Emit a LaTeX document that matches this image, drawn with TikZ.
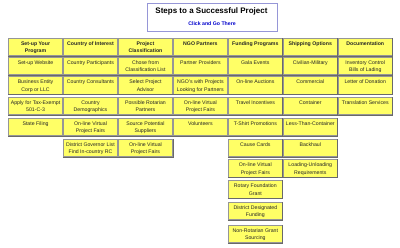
\documentclass[tikz,border=0pt]{standalone}
\usepackage{fontspec}
\setmainfont{Liberation Sans}
\definecolor{cellyellow}{RGB}{255,255,102}
\definecolor{cellborder}{RGB}{150,150,150}
\definecolor{cellshade}{RGB}{105,105,105}
\definecolor{titleborder}{RGB}{150,150,215}
\definecolor{linkblue}{RGB}{0,0,204}
\newcommand\mkcell[5]{%
  \node[cellbox] (#1) at ({8+54.95*#2},#3) {};
  \draw[cellshadeline] (#1.south west) -- (#1.south east) -- (#1.north east);
  \node[#4] (#1t) at ([yshift=-3.5pt]#1.north) {#5};
}
\begin{document}
\begin{tikzpicture}[x=1pt,y=-1pt,
  cellbox/.style={draw=cellborder, fill=cellyellow, line width=0.8pt, minimum width=54.3pt, minimum height=17.5pt, inner sep=0pt, anchor=north west},
  cellshadeline/.style={draw=cellshade, line width=0.9pt},
  celltext/.style={anchor=north, inner sep=0pt, align=center, font=\fontsize{5.2}{7.2}\selectfont, text=black!85},
  headtext/.style={celltext, font=\fontsize{5.2}{7.2}\selectfont\bfseries}]
\useasboundingbox (0,0) rectangle (400,248);
% title
\node[draw=titleborder, line width=0.9pt, fill=white, minimum width=130pt, minimum height=28pt, inner sep=0pt, anchor=north west] (titlebox) at (146.5,3.5) {};
\node[font=\fontsize{8}{9}\selectfont\bfseries, inner sep=0pt] (title) at (211.5,11.8) {Steps to a Successful Project};
\node[font=\fontsize{5.2}{6}\selectfont\bfseries, text=linkblue, inner sep=0pt] (link) at (212,23.5) {Click and Go There};
% column 1
\mkcell{a1}{0}{38}{headtext}{Set-up Your\\Program}
\mkcell{a2}{0}{57}{celltext}{Set-up Website}
\mkcell{a3}{0}{76.5}{celltext}{Business Entity\\Corp or LLC}
\mkcell{a4}{0}{97}{celltext}{Apply for Tax-Exempt\\501-C-3}
\mkcell{a5}{0}{118}{celltext}{State Filing}
% column 2
\mkcell{b1}{1}{38}{headtext}{Country of Interest}
\mkcell{b2}{1}{57}{celltext}{Country Participants}
\mkcell{b3}{1}{76.5}{celltext}{Country Consultants}
\mkcell{b4}{1}{97}{celltext}{Country\\Demographics}
\mkcell{b5}{1}{118}{celltext}{On-line Virtual\\Project Fairs}
\mkcell{b6}{1}{139}{celltext}{District Governor List\\Find In-country RC}
% column 3
\mkcell{c1}{2}{38}{headtext}{Project\\Classification}
\mkcell{c2}{2}{57}{celltext}{Chose from\\Classification List}
\mkcell{c3}{2}{76.5}{celltext}{Select Project\\Advisor}
\mkcell{c4}{2}{97}{celltext}{Possible Rotarian\\Partners}
\mkcell{c5}{2}{118}{celltext}{Source Potential\\Suppliers}
\mkcell{c6}{2}{139}{celltext}{On-line Virtual\\Project Fairs}
% column 4
\mkcell{d1}{3}{38}{headtext}{NGO Partners}
\mkcell{d2}{3}{57}{celltext}{Partner Providers}
\mkcell{d3}{3}{76.5}{celltext}{NGO's with Projects\\Looking for Partners}
\mkcell{d4}{3}{97}{celltext}{On-line Virtual\\Project Fairs}
\mkcell{d5}{3}{118}{celltext}{Volunteers}
% column 5
\mkcell{e1}{4}{38}{headtext}{Funding Programs}
\mkcell{e2}{4}{57}{celltext}{Gala Events}
\mkcell{e3}{4}{76.5}{celltext}{On-line Auctions}
\mkcell{e4}{4}{97}{celltext}{Travel Incentives}
\mkcell{e5}{4}{118}{celltext}{T-Shirt Promotions}
\mkcell{e6}{4}{139}{celltext}{Cause Cards}
\mkcell{e7}{4}{159.5}{celltext}{On-line Virtual\\Project Fairs}
\mkcell{e8}{4}{180.5}{celltext}{Rotary Foundation\\Grant}
\mkcell{e9}{4}{202}{celltext}{District Designated\\Funding}
\mkcell{e10}{4}{225}{celltext}{Non-Rotarian Grant\\Sourcing}
% column 6
\mkcell{f1}{5}{38}{headtext}{Shipping Options}
\mkcell{f2}{5}{57}{celltext}{Civilian-Military}
\mkcell{f3}{5}{76.5}{celltext}{Commercial}
\mkcell{f4}{5}{97}{celltext}{Container}
\mkcell{f5}{5}{118}{celltext}{Less-Than-Container}
\mkcell{f6}{5}{139}{celltext}{Backhaul}
\mkcell{f7}{5}{159.5}{celltext}{Loading-Unloading\\Requirements}
% column 7
\mkcell{g1}{6}{38}{headtext}{Documentation}
\mkcell{g2}{6}{57}{celltext}{Inventory Control\\Bills of Lading}
\mkcell{g3}{6}{76.5}{celltext}{Letter of Donation}
\mkcell{g4}{6}{97}{celltext}{Translation Services}
\end{tikzpicture}
\end{document}
